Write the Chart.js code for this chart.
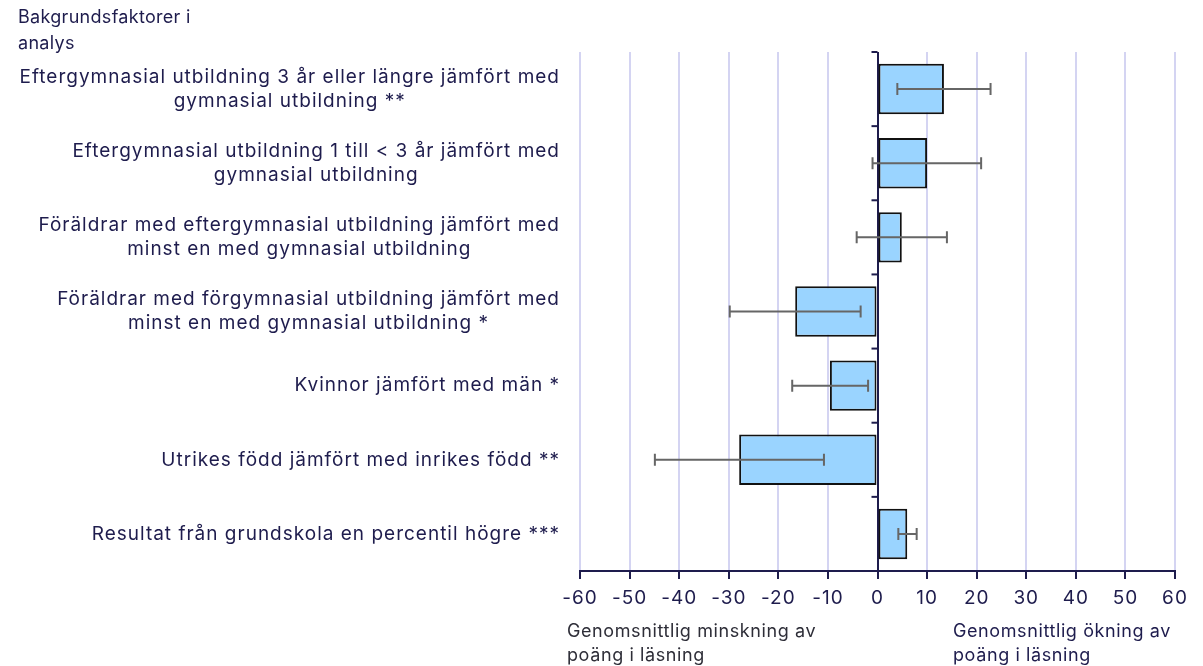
<!DOCTYPE html>
<html lang="sv">

<head>
    <meta charset="UTF-8">
    <title>Bakgrundsfaktorer i analys</title>
    <script src="https://cdn.jsdelivr.net/npm/chart.js"></script>
    <style>
        html, body { margin: 0; padding: 0; background: #fff; overflow: hidden; }
        #wrap { width: 1203px; height: 666px; position: relative; }
    </style>
</head>

<body>
    <div id="wrap">
        <canvas id="myBarChart" width="1203" height="666"></canvas>
    </div>
</body>
<script>
    // kategorier (rader i diagrammet)
    const categories = [
        ['Eftergymnasial utbildning 3 år eller längre jämfört med', 'gymnasial utbildning **'],
        ['Eftergymnasial utbildning 1 till < 3 år jämfört med', 'gymnasial utbildning'],
        ['Föräldrar med eftergymnasial utbildning jämfört med', 'minst en med gymnasial utbildning'],
        ['Föräldrar med förgymnasial utbildning jämfört med', 'minst en med gymnasial utbildning *'],
        ['Kvinnor jämfört med män *'],
        ['Utrikes född jämfört med inrikes född **'],
        ['Resultat från grundskola en percentil högre ***']
    ];
    // effekt på poäng i läsning
    const values = [13.4, 10, 4.9, -16.6, -9.6, -27.9, 6];
    // konfidensintervall
    const errLow = [4, -1, -4.2, -29.8, -17.2, -44.9, 4.2];
    const errHigh = [22.8, 20.9, 14, -3.4, -1.9, -10.8, 7.9];
    const xTicks = [-60, -50, -40, -30, -20, -10, 0, 10, 20, 30, 40, 50, 60];

    const navy = '#1e1c4d';
    const fontFam = 'Inter, "Noto Sans", sans-serif';

    // ritar etiketter, felstaplar och små tickar vid nollan
    const extras = {
        id: 'extras',
        beforeDraw(chart) {
            // typsnittet i originalet är lite bredare
            chart.ctx.letterSpacing = '1px';
        },
        afterDatasetsDraw(chart) {
            const ctx = chart.ctx;
            const x = chart.scales.x;
            const y = chart.scales.y;

            // felstaplar
            ctx.save();
            ctx.strokeStyle = '#666666';
            ctx.lineWidth = 2;
            errLow.forEach((lo, i) => {
                const yc = y.getPixelForValue(i);
                const x1 = x.getPixelForValue(lo);
                const x2 = x.getPixelForValue(errHigh[i]);
                ctx.beginPath();
                ctx.moveTo(x1, yc); ctx.lineTo(x2, yc);
                ctx.moveTo(x1, yc - 6); ctx.lineTo(x1, yc + 6);
                ctx.moveTo(x2, yc - 6); ctx.lineTo(x2, yc + 6);
                ctx.stroke();
            });
            ctx.restore();
        },
        afterDraw(chart) {
            const ctx = chart.ctx;
            const x = chart.scales.x;
            const y = chart.scales.y;
            const x0 = x.getPixelForValue(0);

            ctx.save();
            // små tickar vid kategorigränser
            ctx.strokeStyle = navy;
            ctx.lineWidth = 2;
            for (let i = 0; i <= categories.length; i++) {
                const yy = y.getPixelForValue(i - 0.5);
                ctx.beginPath();
                ctx.moveTo(x0 - 6, yy);
                ctx.lineTo(x0, yy);
                ctx.stroke();
            }

            ctx.fillStyle = navy;
            ctx.font = '19px ' + fontFam;
            ctx.letterSpacing = '1px';
            ctx.textBaseline = 'middle';

            // kategorietiketter: högerjusterat block, centrerade rader
            const right = chart.chartArea.left - 20;
            const lh = 24;
            categories.forEach((lines, i) => {
                const yc = y.getPixelForValue(i);
                const w = Math.max(...lines.map(l => ctx.measureText(l).width));
                const cx = right - w / 2;
                ctx.textAlign = 'center';
                lines.forEach((l, j) => {
                    ctx.fillText(l, cx, yc + (j - (lines.length - 1) / 2) * lh);
                });
            });

            // axeltitlar
            ctx.textAlign = 'left';
            ctx.font = '18px ' + fontFam;
            ctx.letterSpacing = '0.3px';
            ctx.fillText('Bakgrundsfaktorer i', 18, 18);
            ctx.fillText('analys', 18, 44);
            ctx.letterSpacing = '0.6px';
            ctx.fillStyle = '#2e2e38';
            ctx.fillText('Genomsnittlig minskning av', 567, 632);
            ctx.fillText('poäng i läsning', 567, 656);
            ctx.fillStyle = navy;
            ctx.fillText('Genomsnittlig ökning av', 953, 632);
            ctx.fillText('poäng i läsning', 953, 656);
            ctx.restore();
        }
    };

    const ctx = document.getElementById('myBarChart').getContext('2d');
    new Chart(ctx, {
        type: 'bar',
        data: {
            labels: categories,
            datasets: [{
                data: values,
                backgroundColor: '#9ad4ff',
                borderColor: '#111111',
                borderWidth: 2,
                borderSkipped: false,
                barPercentage: 0.68,
                categoryPercentage: 1
            }]
        },
        options: {
            indexAxis: 'y',
            responsive: false,
            animation: false,
            devicePixelRatio: 1,
            layout: {
                padding: { left: 580, right: 28, top: 52, bottom: 0 }
            },
            plugins: {
                legend: { display: false },
                tooltip: { enabled: false }
            },
            scales: {
                x: {
                    type: 'linear',
                    min: -60,
                    max: 60,
                    afterBuildTicks: (scale) => {
                        scale.ticks = xTicks.map(v => ({ value: v }));
                    },
                    afterFit: (scale) => { scale.height = 95; },
                    grid: {
                        color: (c) => c.tick && c.tick.value === 0 ? navy : '#d4d4f2',
                        lineWidth: 2,
                        tickColor: navy,
                        tickWidth: 2,
                        tickLength: 8
                    },
                    border: { color: navy, width: 2 },
                    ticks: {
                        color: navy,
                        font: { family: fontFam, size: 19 },
                        padding: 8
                    }
                },
                y: {
                    display: false
                }
            }
        },
        plugins: [extras]
    });
</script>

</html>
